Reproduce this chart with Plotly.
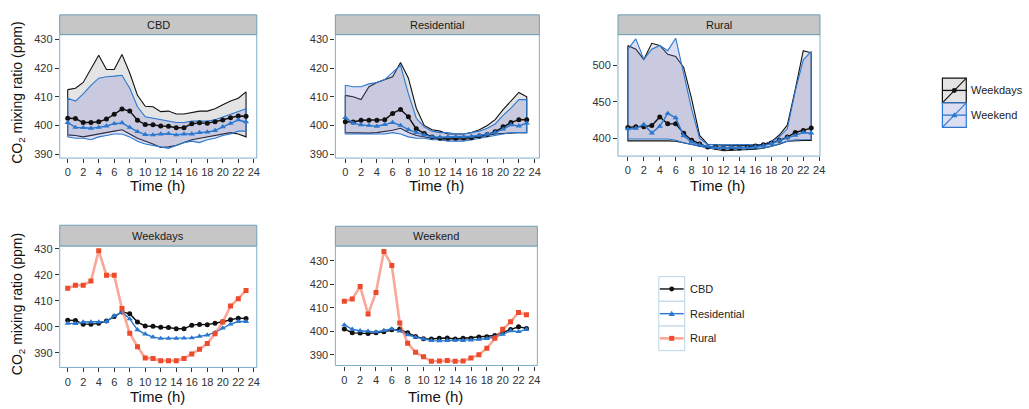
import plotly.graph_objects as go

# ---------------- data ----------------
hours = list(range(24))

cbd_wd_mean = [402.5, 402.4, 401, 401, 401.3, 402.2, 403.9, 405.7, 405, 401.8, 400.3, 400.2,
               399.8, 399.7, 399.2, 399.2, 400.6, 400.9, 400.8, 401.3, 401.9, 402.7, 403.3, 403.2]
cbd_we_mean = [401, 399.3, 399.2, 399, 399.3, 399.8, 400.6, 400.9, 399.3, 397.8, 396.8, 396.7,
               397, 397.1, 396.7, 397, 397, 397.5, 397.7, 398.2, 399.5, 400.7, 401.9, 401.2]
cbd_wd_upper = [412.5, 413, 415, 420, 424.5, 419.5, 419.5, 424.8, 418.3, 410.5, 406.7, 406.5,
                404.8, 405, 404, 404, 404.5, 405, 405, 405.8, 407.2, 408.5, 409.5, 411.7]
cbd_wd_lower = [396.7, 396.5, 396, 396.5, 397, 397.5, 398, 398.5, 397, 395.5, 394.5, 393.5,
                392.3, 392.5, 393, 394, 395, 395.5, 396, 396.5, 397, 397.5, 397, 396]
cbd_we_upper = [409.5, 408.5, 411, 414, 416.5, 417, 417.2, 417.5, 413, 406.5, 403, 402.5,
                402, 401.5, 401, 401, 401.5, 401.5, 401.5, 402, 403, 404, 405, 405.8]
cbd_we_lower = [396, 395.5, 395.5, 395, 396, 396.5, 397, 397, 396, 394.5, 393.5, 393,
                392.5, 392, 393, 394, 394.5, 394, 395, 395.5, 396.5, 397, 398, 398]

res_wd_mean = [401.3, 401.2, 401.8, 401.8, 401.8, 402, 404.2, 405.6, 403, 398.8, 397.2, 396,
               395.5, 395.5, 395.5, 395.6, 395.7, 396.3, 396.8, 397.8, 399.5, 401, 402, 402]
res_we_mean = [402.7, 400.8, 400.2, 400, 399.7, 400.3, 401, 400, 398.5, 397.5, 396.7, 396,
               395.9, 396, 396.1, 396, 396.2, 396.5, 396.9, 397.5, 398.7, 400.2, 399.8, 400.8]
res_wd_upper = [410.5, 410, 409, 413.5, 415, 416, 417, 422, 416.5, 406, 400, 398.5,
                398, 397, 397, 397, 397.5, 398.5, 400, 402, 405.5, 408.5, 411.5, 410]
res_wd_lower = [397.5, 397.5, 397.3, 397.3, 397.5, 397.8, 398.3, 399, 397.5, 396.5, 396, 395.5,
                395, 395, 395, 395, 395.5, 396, 396.5, 397, 397.3, 397.3, 397.5, 397.5]
res_we_upper = [414, 413.5, 413.5, 414.5, 415, 416, 418.5, 421, 411, 402.5, 399.5, 398,
                397.5, 397.5, 397, 397, 397.5, 398, 399, 400.5, 403.5, 406, 409, 409]
res_we_lower = [397, 397, 397, 397, 397, 397, 397.5, 397, 396, 395.5, 395.5, 395,
                395, 394.5, 394.5, 394.5, 395, 395.5, 396, 396.5, 397, 397.5, 397.5, 397.5]

rur_wd_mean = [414.8, 416, 416, 417.6, 429.3, 419.8, 419.8, 407, 397.5, 392.3, 388, 387.8,
               386.9, 386.9, 386.9, 387.8, 389.5, 391.3, 393.5, 397.3, 401.8, 408, 410.8, 414]
rur_we_mean = [412.8, 413.7, 419, 407.3, 416.5, 434, 428, 403.5, 394.9, 391, 389.1, 387.2,
               387.3, 387.5, 387.2, 387.3, 388.6, 390, 392.8, 397, 400.8, 404, 408, 407]
rur_wd_upper = [527, 522, 508, 530, 527, 515, 512, 497, 454, 404, 392, 391,
                390, 390, 390, 390, 391, 392, 395.5, 404.5, 418, 467, 520, 517]
rur_wd_lower = [396.5, 396.5, 396.5, 396.5, 396, 396.5, 396, 394, 391, 389, 387, 385,
                383, 384, 384, 384.5, 385, 386.5, 389, 392, 396, 397, 397, 397]
rur_we_upper = [522, 536, 508, 522, 527, 520, 537, 490, 440, 400, 392, 391,
                391, 391, 391, 391, 391, 392, 395, 402, 413, 465, 507, 519]
rur_we_lower = [399, 399, 399, 399, 399, 399, 397.5, 394, 391, 389, 387, 386,
                385, 385, 385, 385, 386, 387, 389, 392, 396, 398, 398.5, 398.5]

site_names = ["CBD", "Residential", "Rural"]
period_names = ["Weekdays", "Weekend"]
x_ticks = list(range(0, 25, 2))

# ---------------- styling ----------------
W, H = 1029, 409
FONT = "Liberation Sans, Arial, sans-serif"
BLACK = "#111111"
BLUE = "#2a78cf"
RED = "#ee4a2c"
RED_LINE = "rgba(246,120,95,0.65)"
WD_FILL = "rgba(130,130,130,0.22)"
WE_FILL = "rgba(120,120,210,0.25)"
BORDER = "#7fb0cc"
STRIP_FILL = "#c6c6c6"
TICK_COL = "#333333"


def fx(px):
    return px / W


def fy(py):
    return 1 - py / H


# panel geometry in pixels: (x0, x1), (plot top, plot bottom), strip top
panels = [
    dict(title="CBD", x=(60, 258), y=(32, 157), st=12, xr=[-1.03, 24.38], yr=[388.6, 431.7],
         yt=[390, 400, 410, 420, 430]),
    dict(title="Residential", x=(337, 542), y=(32, 157), st=12, xr=[-1.26, 24.6], yr=[388.6, 431.7],
         yt=[390, 400, 410, 420, 430]),
    dict(title="Rural", x=(621, 824), y=(32, 155), st=12, xr=[-1.24, 24.1], yr=[375.7, 541.9],
         yt=[400, 450, 500]),
    dict(title="Weekdays", x=(60, 258), y=(246, 369), st=225, xr=[-1.03, 24.38], yr=[384.3, 431.1],
         yt=[390, 400, 410, 420, 430]),
    dict(title="Weekend", x=(337, 540), y=(246, 367), st=226, xr=[-1.13, 24.38], yr=[385.4, 436.3],
         yt=[390, 400, 410, 420, 430]),
]

fig = go.Figure()
shapes = []
annotations = []


def ax(i):
    return ("x" if i == 1 else f"x{i}"), ("y" if i == 1 else f"y{i}")


def ribbon(i, upper, lower, fill, col):
    xa, ya = ax(i)
    xs = hours + hours[::-1] + [hours[0]]
    ys = upper + lower[::-1] + [upper[0]]
    fig.add_trace(go.Scatter(x=xs, y=ys, xaxis=xa, yaxis=ya, mode="lines", fill="toself",
                             fillcolor=fill, line=dict(color=col, width=1.1),
                             hoverinfo="skip", cliponaxis=True))


def mean_line(i, y, col, symbol, size=5, line_col=None, lw=1.4):
    xa, ya = ax(i)
    fig.add_trace(go.Scatter(x=hours, y=y, xaxis=xa, yaxis=ya, mode="lines+markers",
                             line=dict(color=line_col or col, width=lw),
                             marker=dict(color=col, symbol=symbol, size=size)))


# top row: site panels (weekdays vs weekend)
site_data = [
    (cbd_wd_upper, cbd_wd_lower, cbd_we_upper, cbd_we_lower, cbd_wd_mean, cbd_we_mean),
    (res_wd_upper, res_wd_lower, res_we_upper, res_we_lower, res_wd_mean, res_we_mean),
    (rur_wd_upper, rur_wd_lower, rur_we_upper, rur_we_lower, rur_wd_mean, rur_we_mean),
]
for k, (wu, wl, eu, el, wm, em) in enumerate(site_data):
    i = k + 1
    ribbon(i, wu, wl, WD_FILL, BLACK)
    ribbon(i, eu, el, WE_FILL, BLUE)
    mean_line(i, wm, BLACK, "circle", size=5)
    mean_line(i, em, BLUE, "triangle-up", size=5.5)

# bottom row: period panels (sites compared)
for i, (c, r, u) in zip([4, 5], [(cbd_wd_mean, res_wd_mean, rur_wd_mean),
                                 (cbd_we_mean, res_we_mean, rur_we_mean)]):
    mean_line(i, c, BLACK, "circle", size=5)
    mean_line(i, r, BLUE, "triangle-up", size=5.5)
    mean_line(i, u, RED, "square", size=5, line_col=RED_LINE, lw=2.6)

layout = {}
for n, p in enumerate(panels, start=1):
    xk = "xaxis" if n == 1 else f"xaxis{n}"
    yk = "yaxis" if n == 1 else f"yaxis{n}"
    xa, ya = ax(n)
    layout[xk] = dict(domain=[fx(p["x"][0]), fx(p["x"][1])], range=p["xr"], anchor=ya,
                      tickvals=x_ticks, ticks="outside", ticklen=4, tickwidth=1, tickcolor=TICK_COL,
                      tickfont=dict(size=11, color=TICK_COL, family=FONT),
                      showgrid=False, zeroline=False, showline=False)
    layout[yk] = dict(domain=[fy(p["y"][1]), fy(p["y"][0])], range=p["yr"], anchor=xa,
                      tickvals=p["yt"], ticks="outside", ticklen=4, tickwidth=1, tickcolor=TICK_COL,
                      tickfont=dict(size=11, color=TICK_COL, family=FONT),
                      showgrid=False, zeroline=False, showline=False)
    # panel border
    shapes.append(dict(type="rect", xref="paper", yref="paper",
                       x0=fx(p["x"][0]), x1=fx(p["x"][1]), y0=fy(p["y"][1]), y1=fy(p["y"][0]),
                       line=dict(color=BORDER, width=1), fillcolor="rgba(0,0,0,0)", layer="above"))
    # strip
    shapes.append(dict(type="rect", xref="paper", yref="paper",
                       x0=fx(p["x"][0]), x1=fx(p["x"][1]), y0=fy(p["y"][0]), y1=fy(p["st"]),
                       line=dict(color="#6f9fb8", width=1), fillcolor=STRIP_FILL))
    annotations.append(dict(text=p["title"], xref="paper", yref="paper",
                            x=fx((p["x"][0] + p["x"][1]) / 2), y=fy((p["y"][0] + p["st"]) / 2),
                            showarrow=False, font=dict(size=11, color="#1a1a1a", family=FONT),
                            xanchor="center", yanchor="middle"))
    # x title
    ty = 185 if n <= 3 else 398
    annotations.append(dict(text="Time (h)", xref="paper", yref="paper",
                            x=fx((p["x"][0] + p["x"][1]) / 2 - 1), y=fy(ty),
                            showarrow=False, font=dict(size=15, color="#111111", family=FONT),
                            xanchor="center", yanchor="middle"))

# y titles
for cy in (91, 305):
    annotations.append(dict(text="CO<sub>2</sub> mixing ratio (ppm)", xref="paper", yref="paper",
                            x=fx(18), y=fy(cy), textangle=-90, showarrow=False,
                            font=dict(size=14, color="#111111", family=FONT),
                            xanchor="center", yanchor="middle"))


def tri_path(cx, cy, r):
    return (f"M {fx(cx)} {fy(cy - r)} L {fx(cx + r * 1.05)} {fy(cy + r * 0.75)} "
            f"L {fx(cx - r * 1.05)} {fy(cy + r * 0.75)} Z")


# ---- legend 1 (Weekdays / Weekend) ----
lx0, lx1 = 947, 971
keys1 = [("Weekdays", 76, 101, WD_FILL, BLACK, "circle"),
         ("Weekend", 101, 126, WE_FILL, BLUE, "triangle")]
for label, t, b, fill, col, sym in keys1:
    shapes.append(dict(type="rect", xref="paper", yref="paper", x0=fx(lx0), x1=fx(lx1),
                       y0=fy(b), y1=fy(t), fillcolor=fill, line=dict(color=col, width=1.2)))
    shapes.append(dict(type="line", xref="paper", yref="paper", x0=fx(lx0), x1=fx(lx1),
                       y0=fy(b), y1=fy(t), line=dict(color=col, width=1.1)))
    cy = (t + b) / 2
    shapes.append(dict(type="line", xref="paper", yref="paper", x0=fx(lx0), x1=fx(lx1),
                       y0=fy(cy), y1=fy(cy), line=dict(color=col, width=1.3)))
    if sym == "circle":
        shapes.append(dict(type="circle", xref="paper", yref="paper", x0=fx(959 - 2.5), x1=fx(959 + 2.5),
                           y0=fy(cy + 2.5), y1=fy(cy - 2.5), fillcolor=col, line=dict(color=col, width=0)))
    else:
        shapes.append(dict(type="path", xref="paper", yref="paper", path=tri_path(959, cy, 3),
                           fillcolor=col, line=dict(color=col, width=0)))
    annotations.append(dict(text=label, xref="paper", yref="paper", x=fx(974), y=fy(cy),
                            xanchor="left", yanchor="middle", showarrow=False,
                            font=dict(size=11, color="#222222", family=FONT)))

# ---- legend 2 (sites) ----
gx0, gx1 = 662, 688
keys2 = [("CBD", 277, 302, BLACK, BLACK, 1.4, "circle"),
         ("Residential", 302, 327, BLUE, BLUE, 1.4, "triangle"),
         ("Rural", 327, 352, RED, RED_LINE, 2.6, "square")]
for label, t, b, col, lcol, lw, sym in keys2:
    shapes.append(dict(type="rect", xref="paper", yref="paper", x0=fx(gx0), x1=fx(gx1),
                       y0=fy(b), y1=fy(t), fillcolor="white", line=dict(color="#bcd4e6", width=1)))
    cy = (t + b) / 2
    shapes.append(dict(type="line", xref="paper", yref="paper", x0=fx(gx0 + 1), x1=fx(gx1 - 1),
                       y0=fy(cy), y1=fy(cy), line=dict(color=lcol, width=lw)))
    if sym == "circle":
        shapes.append(dict(type="circle", xref="paper", yref="paper", x0=fx(675 - 2.5), x1=fx(675 + 2.5),
                           y0=fy(cy + 2.5), y1=fy(cy - 2.5), fillcolor=col, line=dict(color=col, width=0)))
    elif sym == "triangle":
        shapes.append(dict(type="path", xref="paper", yref="paper", path=tri_path(675, cy, 3),
                           fillcolor=col, line=dict(color=col, width=0)))
    else:
        shapes.append(dict(type="rect", xref="paper", yref="paper", x0=fx(675 - 2.5), x1=fx(675 + 2.5),
                           y0=fy(cy + 2.5), y1=fy(cy - 2.5), fillcolor=col, line=dict(color=col, width=0)))
    annotations.append(dict(text=label, xref="paper", yref="paper", x=fx(691), y=fy(cy),
                            xanchor="left", yanchor="middle", showarrow=False,
                            font=dict(size=11, color="#222222", family=FONT)))

fig.update_layout(width=W, height=H, margin=dict(l=0, r=0, t=0, b=0, pad=0),
                  paper_bgcolor="white", plot_bgcolor="white", showlegend=False,
                  font=dict(family=FONT), shapes=shapes, annotations=annotations, **layout)

fig.write_html("out.html", config={"displayModeBar": False},
               post_script="document.body.style.margin='0';document.body.style.overflow='hidden';")
